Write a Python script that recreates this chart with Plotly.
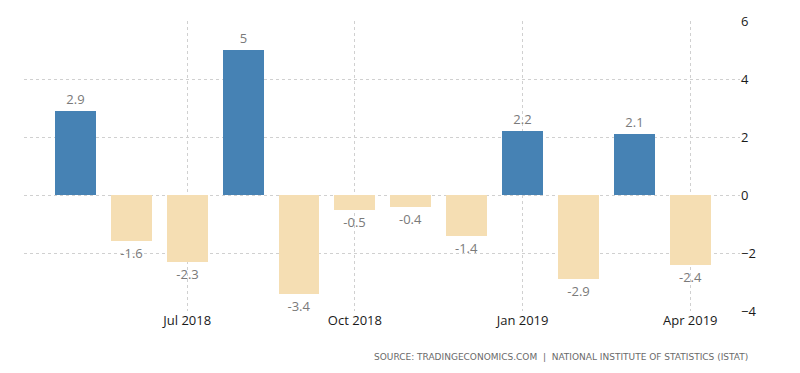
import plotly.graph_objects as go

months = ["May 2018", "Jun 2018", "Jul 2018", "Aug 2018", "Sep 2018", "Oct 2018",
          "Nov 2018", "Dec 2018", "Jan 2019", "Feb 2019", "Mar 2019", "Apr 2019"]
values = [2.9, -1.6, -2.3, 5, -3.4, -0.5, -0.4, -1.4, 2.2, -2.9, 2.1, -2.4]
tick_labels = ["Jul 2018", "Oct 2018", "Jan 2019", "Apr 2019"]
y_ticks = [-4, -2, 0, 2, 4, 6]

BLUE = "#4682B4"
WHEAT = "#F5DEB3"

idx = list(range(len(months)))
tick_pos = [months.index(t) for t in tick_labels]
colors = [BLUE if v >= 0 else WHEAT for v in values]
labels = [("%g" % v) for v in values]

fig = go.Figure()
fig.add_trace(go.Bar(
    x=idx, y=values, width=0.73,
    marker=dict(color=colors, line=dict(width=0)),
    text=labels, textposition="outside", cliponaxis=False,
    textfont=dict(family="Open Sans", size=13, color="#7a7a7a"),
    hoverinfo="skip",
))

fig.update_layout(
    width=784, height=357,
    margin=dict(l=16, r=52, t=13, b=54),
    paper_bgcolor="white", plot_bgcolor="white",
    showlegend=False, bargap=0,
    font=dict(family="Open Sans", color="#1a1a1a"),
    xaxis=dict(
        range=[-0.92, 11.89], tickvals=tick_pos, ticktext=tick_labels,
        showgrid=True, gridcolor="#d0d0d0", griddash="dot", gridwidth=1,
        zeroline=False, showline=False, ticks="", automargin=False,
        tickfont=dict(family="Open Sans", size=13, color="#1a1a1a"),
    ),
    yaxis=dict(
        side="right", range=[-4, 6], tickvals=y_ticks,
        showgrid=True, gridcolor="#d0d0d0", griddash="dot", gridwidth=1,
        zeroline=False, showline=False, ticks="", automargin=False,
        tickfont=dict(family="Open Sans", size=13, color="#1a1a1a"),
    ),
    annotations=[dict(
        text="SOURCE: TRADINGECONOMICS.COM  |  NATIONAL INSTITUTE OF STATISTICS (ISTAT)",
        xref="paper", yref="paper", x=1.014, y=0, yshift=-46,
        xanchor="right", yanchor="middle", showarrow=False,
        font=dict(family="DejaVu Sans", size=9, color="#6a6a6a"),
    )],
)

fig.write_html("out.html")
